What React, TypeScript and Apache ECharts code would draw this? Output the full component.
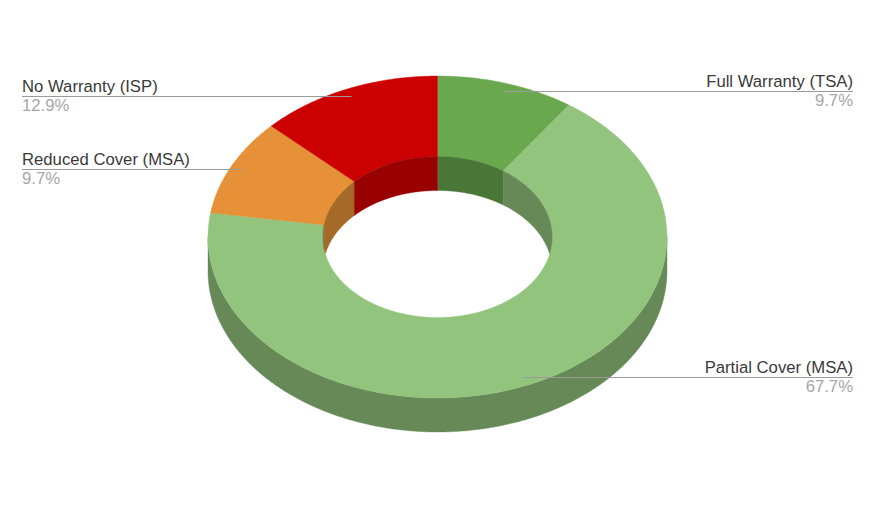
import React, { useEffect, useRef } from "react";
import * as echarts from "echarts";

const categories = ["Full Warranty (TSA)", "Partial Cover (MSA)", "Reduced Cover (MSA)", "No Warranty (ISP)"];
const shares = [9.7, 67.7, 9.7, 12.9];
const topColors = ["#6aa84f", "#93c47d", "#e69138", "#cc0000"];
const wallColors = ["#4a7637", "#678957", "#a56a28", "#990000"];

const W = 877;
const H = 508;
const CX = 437.5;
const CY = 237;
const RX = 229.5;
const RY = 161;
const INNER = 0.5;
const DEPTH = 34;
const LEADER = 0.95;
const LEFT_X = 22;
const RIGHT_X = 853;
const FONT = '16.7px "Liberation Sans", Arial, sans-serif';

const total = shares.reduce((a, b) => a + b, 0);
const rad = (share: number) => (share / total) * Math.PI * 2;
const startOf = (i: number) => rad(shares.slice(0, i).reduce((a, b) => a + b, 0));
const px = (t: number, f = 1) => CX + RX * f * Math.sin(t);
const py = (t: number, f = 1) => CY - RY * f * Math.cos(t);

function samples(a: number, b: number) {
  const n = Math.max(2, Math.ceil(Math.abs(b - a) / 0.01));
  return Array.from({ length: n + 1 }, (_, i) => a + ((b - a) * i) / n);
}

function topPoints(a: number, b: number) {
  const outer = samples(a, b).map((t) => [px(t), py(t)]);
  const inner = samples(b, a).map((t) => [px(t, INNER), py(t, INNER)]);
  return [...outer, ...inner];
}
// Outer side wall: only the front half (90deg..270deg clockwise from the top) shows.
function outerWallPoints(a: number, b: number) {
  const lo = Math.max(a, Math.PI / 2);
  const hi = Math.min(b, (Math.PI * 3) / 2);
  if (hi <= lo) return null;
  const up = samples(lo, hi).map((t) => [px(t), py(t)]);
  const down = samples(hi, lo).map((t) => [px(t), py(t) + DEPTH]);
  return [...up, ...down];
}
// Inner wall: the back half of the hole, cut off by the hole's near edge.
function innerWallRange(lo: number, hi: number) {
  if (hi <= lo) return null;
  const up = samples(lo, hi).map((t) => [px(t, INNER), py(t, INNER)]);
  const down = samples(hi, lo).map((t) => {
    const near = CY + RY * INNER * Math.abs(Math.cos(t));
    return [px(t, INNER), Math.min(py(t, INNER) + DEPTH, near)];
  });
  return [...up, ...down];
}
function innerWallPoints(a: number, b: number) {
  return [
    innerWallRange(Math.max(a, 0), Math.min(b, Math.PI / 2)),
    innerWallRange(Math.max(a, (Math.PI * 3) / 2), Math.min(b, Math.PI * 2)),
  ].filter(Boolean) as number[][][];
}

const poly = (points: number[][], fill: string) => ({
  type: "polygon",
  shape: { points },
  style: { fill, stroke: fill, lineWidth: 0.4 },
});

function renderSlice(_: any, api: any) {
  const i = api.value(1) as number;
  const a = startOf(i);
  const b = a + rad(api.value(0) as number);
  const outer = outerWallPoints(a, b);
  return {
    type: "group",
    children: [
      ...(outer ? [poly(outer, wallColors[i])] : []),
      poly(topPoints(a, b), topColors[i]),
      ...innerWallPoints(a, b).map((d) => poly(d, wallColors[i])),
    ],
  };
}

function renderLabel(_: any, api: any) {
  const i = api.value(1) as number;
  const value = api.value(0) as number;
  const mid = startOf(i) + rad(value) / 2;
  const x = px(mid, LEADER);
  const y = Math.floor(py(mid, LEADER)) + 0.5;
  const right = Math.sin(mid) > 0;
  const edge = right ? RIGHT_X : LEFT_X;
  const align = right ? "right" : "left";
  return {
    type: "group",
    children: [
      {
        type: "line",
        shape: { x1: x, y1: y, x2: edge, y2: y },
        style: { stroke: "#9a9a9a", lineWidth: 1 },
      },
      {
        type: "text",
        style: { text: categories[i], x: edge, y: y - 1.5, align, verticalAlign: "bottom", font: FONT, fill: "#3a3a3a" },
      },
      {
        type: "text",
        style: { text: value.toFixed(1) + "%", x: edge, y: y + 0.5, align, verticalAlign: "top", font: FONT, fill: "#a6a6a6" },
      },
    ],
  };
}

export default function App() {
  const ref = useRef<HTMLDivElement>(null);
  useEffect(() => {
    const chart = echarts.init(ref.current!, undefined, { renderer: "svg" });
    const data = shares.map((v, i) => [v, i]);
    chart.setOption({
      animation: false,
      backgroundColor: "#ffffff",
      series: [
        { type: "custom", coordinateSystem: "none", silent: true, z: 1, data, renderItem: renderSlice },
        { type: "custom", coordinateSystem: "none", silent: true, z: 2, data, renderItem: renderLabel },
      ],
    });
    return () => chart.dispose();
  }, []);
  return <div ref={ref} style={{ position: "fixed", left: 0, top: 0, width: W, height: H }} />;
}
